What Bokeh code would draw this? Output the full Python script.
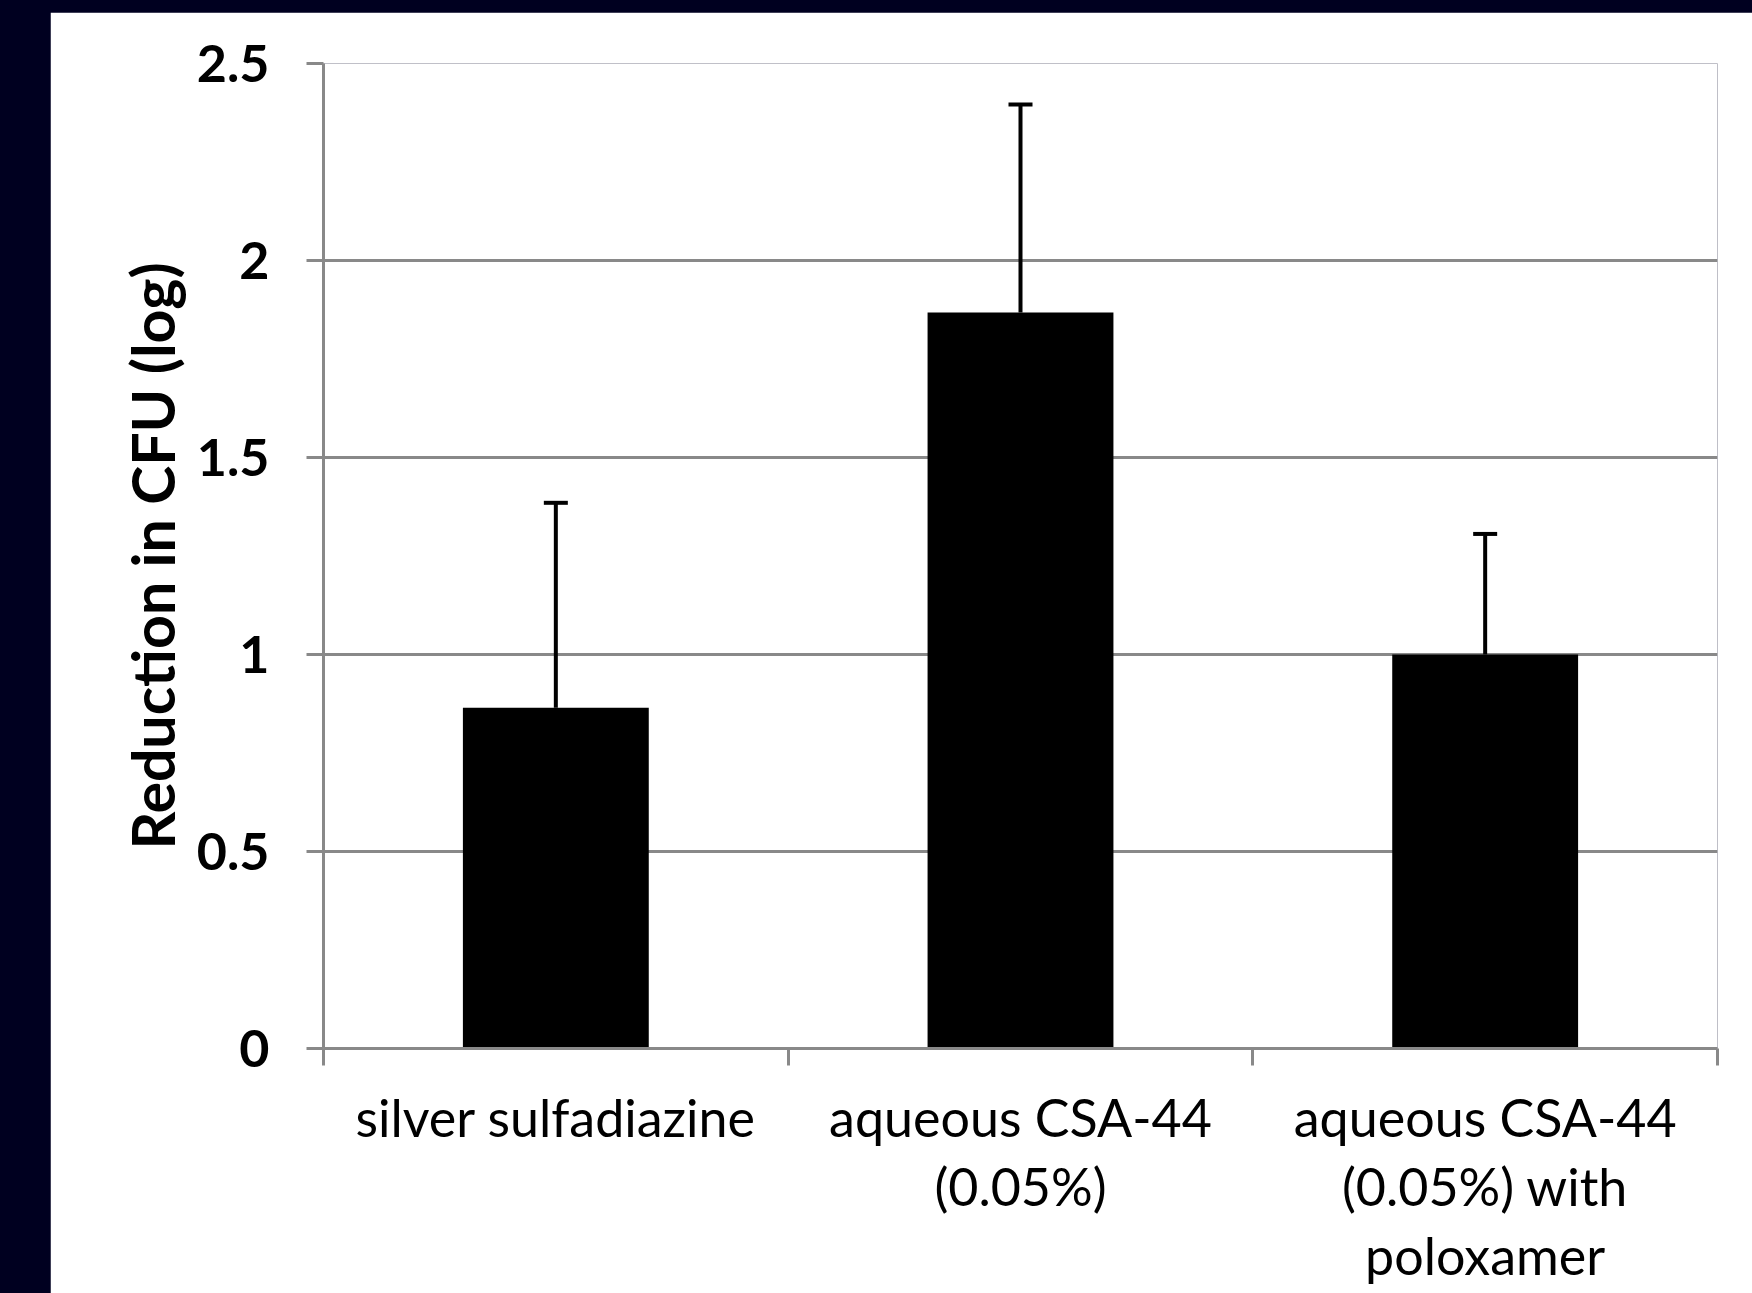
from bokeh.plotting import figure
from bokeh.models import Range1d, FixedTicker, Whisker, TeeHead, ColumnDataSource, NumeralTickFormatter
from bokeh.layouts import column
from bokeh.embed import file_html
from bokeh.resources import INLINE

# ---- data ----
categories = ["silver sulfadiazine", "aqueous CSA-44\n(0.05%)", "aqueous CSA-44\n(0.05%) with\npoloxamer"]
values = [0.865, 1.868, 1.0]
errors = [0.52, 0.528, 0.306]
y_ticks = [0, 0.5, 1, 1.5, 2, 2.5]
y_title = "Reduction in CFU (log)"

centers = [i + 0.5 for i in range(len(categories))]
bounds = list(range(len(categories) + 1))
uppers = [v + e for v, e in zip(values, errors)]

GRAY = "#898989"
NAVY = "#000020"
FONT = "Lato"

p = figure(width=1702, height=1281,
           x_range=Range1d(0, len(categories)), y_range=Range1d(0, 2.5),
           output_backend="svg", toolbar_location=None,
           min_border_left=273, min_border_right=35, min_border_top=51, min_border_bottom=245,
           background_fill_color="white", border_fill_color="white", outline_line_color=None)

p.xgrid.visible = False
p.ygrid.grid_line_color = GRAY
p.ygrid.grid_line_width = 3
p.ygrid.ticker = FixedTicker(ticks=y_ticks)

# y axis
ya = p.yaxis[0]
ya.ticker = FixedTicker(ticks=y_ticks)
ya.formatter = NumeralTickFormatter(format="0.[0]")
ya.axis_line_color = GRAY
ya.axis_line_width = 3
ya.major_tick_line_color = GRAY
ya.major_tick_line_width = 3
ya.major_tick_out = 17
ya.major_tick_in = 0
ya.minor_tick_line_color = None
ya.major_label_text_font = FONT
ya.major_label_text_font_style = "bold"
ya.major_label_text_font_size = "52px"
ya.major_label_text_color = "black"
ya.major_label_standoff = 37
ya.axis_label = y_title
ya.axis_label_text_font = FONT
ya.axis_label_text_font_style = "bold"
ya.axis_label_text_font_size = "59px"
ya.axis_label_text_color = "black"
ya.axis_label_standoff = 6

# x axis
xa = p.xaxis[0]
xa.ticker = FixedTicker(ticks=centers, minor_ticks=bounds)
xa.major_label_overrides = {c: lab for c, lab in zip(centers, categories)}
xa.axis_line_color = GRAY
xa.axis_line_width = 3
xa.major_tick_line_color = None
xa.major_tick_out = 17
xa.major_tick_in = 0
xa.minor_tick_line_color = GRAY
xa.minor_tick_line_width = 3
xa.minor_tick_out = 17
xa.minor_tick_in = 0
xa.major_label_text_font = FONT
xa.major_label_text_font_size = "52px"
xa.major_label_text_color = "black"
xa.major_label_text_line_height = 1.12
xa.major_label_standoff = 20

# bars
p.vbar(x=centers, top=values, bottom=0, width=0.40, fill_color="black", line_color=None)

# error bars
src = ColumnDataSource(dict(base=centers, lower=values, upper=uppers))
w = Whisker(source=src, base="base", lower="lower", upper="upper",
            line_color="black", line_width=4,
            upper_head=TeeHead(size=24, line_width=4, line_color="black"),
            lower_head=None)
p.add_layout(w)

p.margin = (20, 0, 0, 58)
layout = column(p, styles={"background-color": NAVY}, margin=(-8, 0, 0, -8))

open("out.html", "w").write(file_html(layout, INLINE))
